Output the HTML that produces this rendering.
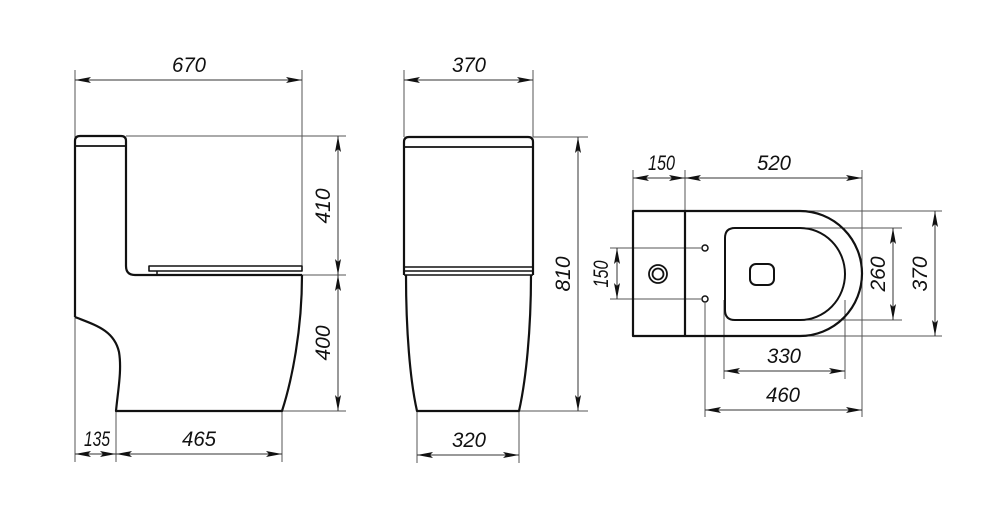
<!DOCTYPE html>
<html><head><meta charset="utf-8"><style>
html,body{margin:0;padding:0;background:#fff;}
svg{display:block;}
text{font-family:"Liberation Sans",sans-serif;font-style:italic;font-size:21px;fill:#111;}
</style></head><body>
<svg width="1000" height="506" viewBox="0 0 1000 506" xmlns="http://www.w3.org/2000/svg">
<defs>
<marker id="a" viewBox="0 0 16 6" refX="16" refY="3" markerWidth="16" markerHeight="6" orient="auto-start-reverse" markerUnits="userSpaceOnUse">
<path d="M0,0 L16,3 L0,6 L3,3 z" fill="#111"/></marker>
</defs>
<g stroke="#555" stroke-width="1" fill="none">
<!-- side view ext lines -->
<line x1="75" y1="70" x2="75" y2="462"/>
<line x1="302" y1="70" x2="302" y2="268"/>
<line x1="126" y1="136" x2="346" y2="136"/>
<line x1="302" y1="275" x2="346" y2="275"/>
<line x1="282" y1="411" x2="346" y2="411"/>
<line x1="116" y1="411" x2="116" y2="462"/>
<line x1="282" y1="411" x2="282" y2="462"/>
<!-- front -->
<line x1="404" y1="70" x2="404" y2="137"/>
<line x1="533" y1="70" x2="533" y2="137"/>
<line x1="533" y1="137" x2="588" y2="137"/>
<line x1="519" y1="411" x2="588" y2="411"/>
<line x1="417" y1="411" x2="417" y2="463"/>
<line x1="519" y1="411" x2="519" y2="463"/>
<!-- top view -->
<line x1="633" y1="170" x2="633" y2="211"/>
<line x1="685" y1="170" x2="685" y2="211"/>
<line x1="862" y1="170" x2="862" y2="417"/>
<line x1="800" y1="211" x2="942" y2="211"/>
<line x1="800" y1="336" x2="942" y2="336"/>
<line x1="800" y1="228" x2="902" y2="228"/>
<line x1="800" y1="320" x2="902" y2="320"/>
<line x1="610" y1="248" x2="701" y2="248"/>
<line x1="610" y1="299" x2="701" y2="299"/>
<line x1="724" y1="300" x2="724" y2="379"/>
<line x1="845" y1="300" x2="845" y2="379"/>
<line x1="705" y1="303" x2="705" y2="417"/>
</g>
<g stroke="#333" stroke-width="1" fill="none">
<line x1="75" y1="80" x2="302" y2="80" marker-start="url(#a)" marker-end="url(#a)"/>
<line x1="338" y1="136" x2="338" y2="275" marker-start="url(#a)" marker-end="url(#a)"/>
<line x1="338" y1="275" x2="338" y2="411" marker-start="url(#a)" marker-end="url(#a)"/>
<line x1="75" y1="454" x2="116" y2="454" marker-start="url(#a)" marker-end="url(#a)"/>
<line x1="116" y1="454" x2="282" y2="454" marker-start="url(#a)" marker-end="url(#a)"/>
<line x1="404" y1="80" x2="533" y2="80" marker-start="url(#a)" marker-end="url(#a)"/>
<line x1="578" y1="137" x2="578" y2="411" marker-start="url(#a)" marker-end="url(#a)"/>
<line x1="417" y1="455" x2="519" y2="455" marker-start="url(#a)" marker-end="url(#a)"/>
<line x1="633" y1="178" x2="685" y2="178" marker-start="url(#a)" marker-end="url(#a)"/>
<line x1="685" y1="178" x2="862" y2="178" marker-start="url(#a)" marker-end="url(#a)"/>
<line x1="617" y1="248" x2="617" y2="299" marker-start="url(#a)" marker-end="url(#a)"/>
<line x1="893" y1="228" x2="893" y2="320" marker-start="url(#a)" marker-end="url(#a)"/>
<line x1="935" y1="211" x2="935" y2="336" marker-start="url(#a)" marker-end="url(#a)"/>
<line x1="724" y1="371" x2="845" y2="371" marker-start="url(#a)" marker-end="url(#a)"/>
<line x1="705" y1="410" x2="862" y2="410" marker-start="url(#a)" marker-end="url(#a)"/>
</g>
<g stroke="#111" stroke-width="2.2" fill="none" stroke-linejoin="round">
<!-- side view -->
<path d="M75,317 L75,141 Q75,136 80,136 L121,136 Q126,136 126,141 L126,266 Q126,275 135,275 L302,275"/>
<line x1="75" y1="146" x2="126" y2="146" stroke-width="1.8"/>
<path d="M149,266 L302,266 L302,271 L149,271 Z" stroke-width="1.6"/>
<line x1="157" y1="271" x2="157" y2="275" stroke-width="1.5"/>
<path d="M302,275 C302,330 292,380 282,411 L116,411 C118,390 122,370 119,352 C114,330 95,325 75,317"/>
<!-- front view -->
<path d="M404,147 L404,142 Q404,137 409,137 L528,137 Q533,137 533,142 L533,147"/>
<line x1="404" y1="147" x2="533" y2="147" stroke-width="1.8"/>
<line x1="404" y1="147" x2="404" y2="275"/>
<line x1="533" y1="147" x2="533" y2="275"/>
<line x1="404" y1="267" x2="533" y2="267" stroke-width="1.6"/>
<line x1="404" y1="271" x2="533" y2="271" stroke-width="1.6"/>
<line x1="404" y1="275" x2="533" y2="275" stroke-width="1.6"/>
<path d="M406,275 C406,330 410,380 417,411 L519,411 C526,380 531,330 531,275"/>
<!-- top view -->
<rect x="633" y="211" width="52" height="125"/>
<path d="M685,211 L800,211 A62,62.5 0 0 1 800,336 L685,336"/>
<path d="M735,228 L800,228 A45,46 0 0 1 800,320 L735,320 Q725,320 725,310 L725,238 Q725,228 735,228 Z" stroke-width="2"/>
<rect x="750" y="264" width="24" height="21" rx="6" stroke-width="2"/>
<circle cx="658" cy="274" r="9" stroke-width="1.8"/>
<circle cx="658" cy="274" r="5.5" stroke-width="1.8"/>
<circle cx="705" cy="248" r="3" stroke-width="1.5"/>
<circle cx="705" cy="299" r="3" stroke-width="1.5"/>
</g>
<g>
<text x="172" y="72" textLength="34" lengthAdjust="spacingAndGlyphs">670</text>
<text transform="translate(330,206) rotate(-90)" text-anchor="middle">410</text>
<text transform="translate(330,343) rotate(-90)" text-anchor="middle">400</text>
<text x="84" y="446" textLength="26" lengthAdjust="spacingAndGlyphs">135</text>
<text x="182" y="446" textLength="34" lengthAdjust="spacingAndGlyphs">465</text>
<text x="452" y="72" textLength="34" lengthAdjust="spacingAndGlyphs">370</text>
<text transform="translate(570,274) rotate(-90)" text-anchor="middle">810</text>
<text x="452" y="447" textLength="34" lengthAdjust="spacingAndGlyphs">320</text>
<text x="648" y="170" textLength="27" lengthAdjust="spacingAndGlyphs">150</text>
<text x="757" y="170" textLength="34" lengthAdjust="spacingAndGlyphs">520</text>
<text transform="translate(608,274) rotate(-90)" text-anchor="middle" textLength="27" lengthAdjust="spacingAndGlyphs">150</text>
<text transform="translate(885,274) rotate(-90)" text-anchor="middle">260</text>
<text transform="translate(927,274) rotate(-90)" text-anchor="middle">370</text>
<text x="767" y="363" textLength="34" lengthAdjust="spacingAndGlyphs">330</text>
<text x="766" y="402" textLength="34" lengthAdjust="spacingAndGlyphs">460</text>
</g>
</svg>
</body></html>
